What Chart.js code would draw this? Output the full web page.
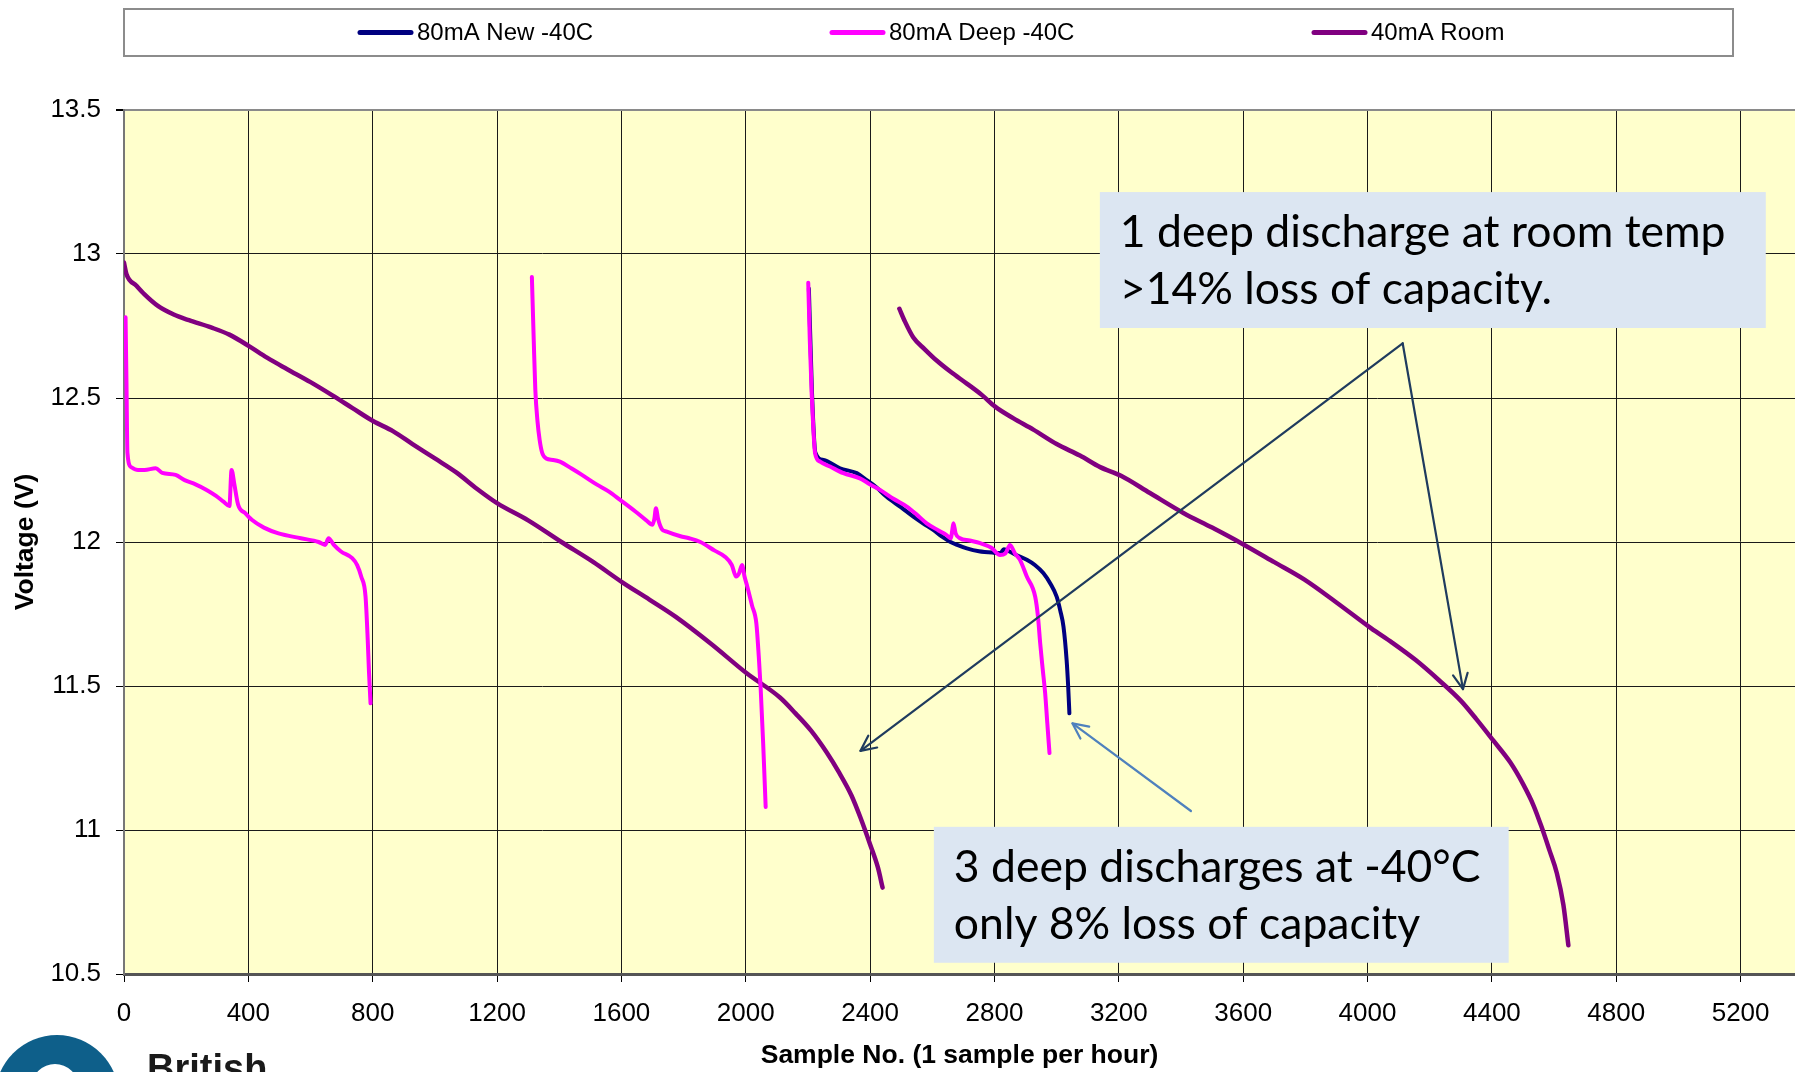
<!DOCTYPE html>
<html>
<head>
<meta charset="utf-8">
<title>Battery discharge at -40C and room temperature</title>
<script src="https://cdn.jsdelivr.net/npm/chart.js@4.4.1/dist/chart.umd.min.js"></script>
<style>
  html, body { margin: 0; padding: 0; background: #ffffff; }
  #wrap { position: relative; width: 1795px; height: 1072px; overflow: hidden; }
</style>
</head>
<body>
<div id="wrap"><canvas id="chart"></canvas></div>
<script>
const seriesLabels = ["80mA New -40C", "80mA Deep -40C", "40mA Room"];
const seriesColors = ["#000080", "#FF00FF", "#800080"];

const xTicks = [0, 400, 800, 1200, 1600, 2000, 2400, 2800, 3200, 3600, 4000, 4400, 4800, 5200];
const yTicks = [10.5, 11, 11.5, 12, 12.5, 13, 13.5];

// 80mA New -40C (single run, starts under the magenta spike)
const newX = [2203, 2213, 2224, 2250, 2303, 2357, 2389, 2420, 2453, 2500, 2539, 2570, 2603, 2630,
  2657, 2680, 2711, 2750, 2796, 2820, 2830, 2839, 2870, 2904, 2930, 2957, 2980, 3000, 3012, 3022,
  3032, 3037, 3041];
const newY = [12.88, 12.52, 12.31, 12.285, 12.256, 12.239, 12.215, 12.19, 12.157, 12.12, 12.088,
  12.065, 12.042, 12.02, 12.001, 11.99, 11.978, 11.968, 11.963, 11.962, 11.975, 11.972, 11.955,
  11.938, 11.92, 11.892, 11.855, 11.81, 11.76, 11.706, 11.591, 11.5, 11.405];

// 80mA Deep -40C: three discharges, null marks the break between runs
const deepX = [
  5, 8, 11, 23, 45, 66, 102, 123, 166, 195, 230, 267, 296, 320, 339, 346, 355, 367, 390, 411, 450,
  497, 569, 626, 647, 658, 675, 698, 734, 750, 763, 777, 784, 788, 793,
  1050,
  1312, 1318, 1323, 1330, 1337, 1345, 1358, 1380, 1402, 1440, 1473, 1520, 1560, 1596, 1646, 1680,
  1700, 1706, 1711, 1718, 1730, 1746, 1790, 1818, 1854, 1900, 1933, 1955, 1969, 1978, 1988, 1996,
  2005, 2020, 2034, 2042, 2048, 2056, 2064,
  2130,
  2201, 2206, 2212, 2217, 2223, 2239, 2271, 2314, 2367, 2400, 2432, 2475, 2518, 2550, 2582, 2620,
  2646, 2660, 2664, 2668, 2675, 2689, 2720, 2754, 2790, 2818, 2835, 2850, 2866, 2882, 2904, 2931,
  2940, 2947, 2955, 2963, 2970, 2977];
const deepY = [
  12.78, 12.55, 12.31, 12.26, 12.25, 12.25, 12.256, 12.24, 12.233, 12.215, 12.2, 12.18, 12.16, 12.14,
  12.125, 12.25, 12.2, 12.13, 12.1, 12.077, 12.05, 12.03, 12.013, 12.0, 11.99, 12.013, 11.99, 11.967,
  11.944, 11.92, 11.88, 11.81, 11.66, 11.55, 11.44,
  null,
  12.92, 12.7, 12.53, 12.42, 12.354, 12.31, 12.29, 12.285, 12.279, 12.255, 12.233, 12.2, 12.175,
  12.146, 12.105, 12.075, 12.06, 12.08, 12.117, 12.08, 12.045, 12.036, 12.02, 12.013, 12.0, 11.97,
  11.949, 11.92, 11.88, 11.89, 11.92, 11.88, 11.845, 11.78, 11.718, 11.6, 11.49, 11.3, 11.08,
  null,
  12.9, 12.7, 12.516, 12.4, 12.308, 12.279, 12.262, 12.239, 12.221, 12.2, 12.181, 12.15, 12.123,
  12.095, 12.065, 12.04, 12.024, 12.013, 12.04, 12.065, 12.03, 12.013, 12.005, 11.996, 11.98, 11.955,
  11.96, 11.99, 11.96, 11.938, 11.88, 11.81, 11.74, 11.649, 11.56, 11.475, 11.37, 11.267];

// 40mA Room: before and after the deep discharge
const roomX = [
  0, 8, 40, 66, 109, 160, 209, 280, 339, 402, 460, 525, 600, 669, 735, 801, 865, 928, 1000, 1071,
  1135, 1200, 1300, 1407, 1510, 1603, 1690, 1775, 1890, 2002, 2110, 2160, 2210, 2260, 2300, 2340,
  2370, 2400, 2425, 2440,
  2467,
  2494, 2510, 2539, 2575, 2614, 2660, 2711, 2760, 2802, 2860, 2925, 3000, 3075, 3140, 3207, 3300,
  3409, 3500, 3595, 3700, 3796, 3900, 4012, 4080, 4155, 4230, 4299, 4350, 4405, 4459, 4500, 4534,
  4560, 4585, 4609, 4630, 4646];
const roomY = [
  12.97, 12.93, 12.89, 12.86, 12.82, 12.79, 12.77, 12.745, 12.72, 12.68, 12.64, 12.6, 12.555, 12.51,
  12.465, 12.42, 12.385, 12.34, 12.29, 12.24, 12.185, 12.135, 12.075, 12.0, 11.93, 11.86, 11.8, 11.74,
  11.645, 11.545, 11.46, 11.405, 11.345, 11.27, 11.2, 11.12, 11.04, 10.95, 10.87, 10.8,
  null,
  12.81, 12.77, 12.71, 12.67, 12.63, 12.59, 12.55, 12.51, 12.47, 12.43, 12.39, 12.34, 12.3, 12.26,
  12.23, 12.17, 12.1, 12.05, 11.995, 11.93, 11.87, 11.79, 11.7, 11.65, 11.59, 11.52, 11.45, 11.385,
  11.31, 11.235, 11.16, 11.085, 11.01, 10.93, 10.85, 10.74, 10.6];

// call-out boxes and arrows, in data units
const notes = [
  { x0: 3139, x1: 5281, y0: 13.215, y1: 12.743,
    lines: ["1 deep discharge at room temp", ">14% loss of capacity."] },
  { x0: 2605, x1: 4454, y0: 11.011, y1: 10.539,
    lines: ["3 deep discharges at -40°C", "only 8% loss of capacity"] },
];
const arrows = [
  { from: [4113, 12.69], to: [2369, 11.275], color: "#1F3B5E" },
  { from: [4113, 12.69], to: [4307, 11.489], color: "#1F3B5E" },
  { from: [3432, 11.066], to: [3051, 11.37], color: "#4F81BD" },
];

const FONT = "'Liberation Sans', Arial, sans-serif";

function toPoints(xs, ys) {
  return xs.map((x, i) => ({ x: x, y: ys[i] }));
}

const plotBackground = {
  id: "plotBackground",
  beforeDraw(chart) {
    const { ctx, chartArea: a } = chart;
    ctx.save();
    ctx.fillStyle = "#FFFFCC";
    ctx.fillRect(a.left, a.top, a.right - a.left, a.bottom - a.top);
    ctx.restore();
  },
};

function arrowHead(ctx, x1, y1, x2, y2, len) {
  const a = Math.atan2(y2 - y1, x2 - x1);
  ctx.beginPath();
  ctx.moveTo(x2 - len * Math.cos(a - 0.45), y2 - len * Math.sin(a - 0.45));
  ctx.lineTo(x2, y2);
  ctx.lineTo(x2 - len * Math.cos(a + 0.45), y2 - len * Math.sin(a + 0.45));
  ctx.stroke();
}

const callouts = {
  id: "callouts",
  afterDatasetsDraw(chart) {
    const { ctx, scales: { x, y } } = chart;
    ctx.save();
    notes.forEach((n) => {
      const left = x.getPixelForValue(n.x0);
      const top = y.getPixelForValue(n.y0);
      ctx.fillStyle = "#DCE6F2";
      ctx.fillRect(left, top, x.getPixelForValue(n.x1) - left, y.getPixelForValue(n.y1) - top);
      ctx.fillStyle = "#000";
      ctx.font = "44.5px Lato, 'Open Sans', sans-serif";
      ctx.textBaseline = "alphabetic";
      n.lines.forEach((t, i) => ctx.fillText(t, left + 20, top + 55 + i * 57));
    });
    ctx.lineWidth = 2.2;
    ctx.lineCap = "round";
    ctx.lineJoin = "round";
    arrows.forEach((a) => {
      const x1 = x.getPixelForValue(a.from[0]);
      const y1 = y.getPixelForValue(a.from[1]);
      const x2 = x.getPixelForValue(a.to[0]);
      const y2 = y.getPixelForValue(a.to[1]);
      ctx.strokeStyle = a.color;
      ctx.beginPath();
      ctx.moveTo(x1, y1);
      ctx.lineTo(x2, y2);
      ctx.stroke();
      arrowHead(ctx, x1, y1, x2, y2, 17);
    });
    ctx.restore();
  },
};

// boxed legend across the top, like the spreadsheet's
const boxedLegend = {
  id: "boxedLegend",
  afterDraw(chart, args, opts) {
    const { ctx } = chart;
    const mid = opts.top + opts.height / 2;
    ctx.save();
    ctx.strokeStyle = "#8c8c8c";
    ctx.lineWidth = 2;
    ctx.strokeRect(opts.left, opts.top, opts.width, opts.height);
    ctx.font = "24px " + FONT;
    ctx.textBaseline = "middle";
    chart.data.datasets.forEach((ds, i) => {
      const sx = opts.itemX[i];
      ctx.strokeStyle = ds.borderColor;
      ctx.lineWidth = 5;
      ctx.lineCap = "round";
      ctx.beginPath();
      ctx.moveTo(sx + 2, mid);
      ctx.lineTo(sx + 53, mid);
      ctx.stroke();
      ctx.fillStyle = "#000";
      ctx.fillText(ds.label, sx + 59, mid + 1);
    });
    ctx.restore();
  },
};

// corner of the logo that the screenshot cuts off
const logoCorner = {
  id: "logoCorner",
  afterDraw(chart) {
    const { ctx } = chart;
    ctx.save();
    ctx.fillStyle = "#0E5F8A";
    ctx.beginPath();
    ctx.arc(57, 1097, 62, 0, Math.PI * 2);
    ctx.fill();
    ctx.fillStyle = "#ffffff";
    ctx.beginPath();
    ctx.ellipse(55, 1086, 23, 22, 0, 0, Math.PI * 2);
    ctx.fill();
    ctx.fillStyle = "#1a1a1a";
    ctx.font = "bold 38px " + FONT;
    ctx.textBaseline = "alphabetic";
    ctx.fillText("British", 147, 1081);
    ctx.restore();
  },
};

new Chart(document.getElementById("chart"), {
  type: "line",
  data: {
    datasets: [
      { label: seriesLabels[0], data: toPoints(newX, newY), borderColor: seriesColors[0], order: 1 },
      { label: seriesLabels[1], data: toPoints(deepX, deepY), borderColor: seriesColors[1], order: 0 },
      { label: seriesLabels[2], data: toPoints(roomX, roomY), borderColor: seriesColors[2], order: 2, borderWidth: 4.5 },
    ],
  },
  options: {
    responsive: true,
    maintainAspectRatio: false,
    animation: false,
    events: [],
    layout: { padding: { top: 110, left: 0, right: 0, bottom: 0 } },
    elements: {
      point: { radius: 0 },
      line: {
        borderWidth: 4,
        cubicInterpolationMode: "monotone",
        fill: false,
        borderJoinStyle: "round",
        borderCapStyle: "round",
      },
    },
    plugins: {
      legend: { display: false },
      tooltip: { enabled: false },
      boxedLegend: { left: 124, top: 9, width: 1609, height: 47, itemX: [358, 830, 1312] },
    },
    scales: {
      x: {
        type: "linear",
        min: 0,
        max: 5375,
        afterBuildTicks: (s) => { s.ticks = xTicks.map((v) => ({ value: v })); },
        afterFit: (s) => { s.height = 98; },
        grid: { color: "#1a1a1a", lineWidth: 1, tickLength: 8, tickColor: "#000" },
        border: { color: "#555", width: 3 },
        ticks: {
          color: "#000",
          font: { family: FONT, size: 26 },
          padding: 16,
          maxRotation: 0,
          autoSkip: false,
          callback: (v) => String(v),
        },
        title: {
          display: true,
          text: "Sample No. (1 sample per hour)",
          color: "#000",
          font: { family: FONT, size: 26.5, weight: "bold" },
          padding: { top: 0, bottom: 0 },
        },
      },
      y: {
        min: 10.5,
        max: 13.5,
        afterBuildTicks: (s) => { s.ticks = yTicks.map((v) => ({ value: v })); },
        afterFit: (s) => { s.width = 124; },
        grid: {
          color: (c) => (c.tick && c.tick.value === 13.5 ? "#8a8a8a" : "#1a1a1a"),
          lineWidth: (c) => (c.tick && c.tick.value === 13.5 ? 2 : 1),
          tickLength: 8,
          tickColor: "#000",
        },
        border: { color: "#777", width: 2 },
        ticks: {
          color: "#000",
          font: { family: FONT, size: 26 },
          padding: 15,
          callback: (v) => String(v),
        },
        title: {
          display: true,
          text: "Voltage (V)",
          color: "#000",
          font: { family: FONT, size: 26.5, weight: "bold" },
          padding: { top: 10, bottom: 0 },
        },
      },
    },
  },
  plugins: [plotBackground, callouts, boxedLegend, logoCorner],
});
</script>
</body>
</html>
